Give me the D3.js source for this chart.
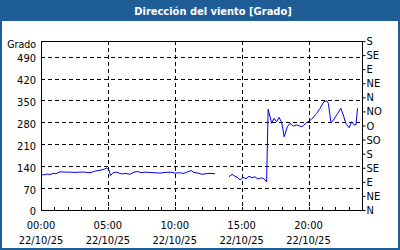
<!DOCTYPE html>
<html>
<head>
<meta charset="utf-8">
<script src="https://cdn.jsdelivr.net/npm/d3@7"></script>
<style>
  body { margin: 0; background: #fff; }
  svg { display: block; }
  text { font-family: "DejaVu Sans Condensed", "DejaVu Sans", sans-serif; font-size: 11px; fill: #000; }
</style>
</head>
<body>
<script>
var width = 400
var height = 250

// wind direction readings, 22/10/25 (null = no data)
var times = ["00:00","00:13","00:27","00:40","00:54","01:07","01:25","01:48","02:10","02:33","02:55","03:17","03:40","04:02","04:25","04:43","04:56","05:05","05:12","05:23","05:36","05:50","06:03","06:21","06:39","06:57","07:15","07:29","07:47","08:09","08:31","08:54","09:16","09:39","10:01","10:23","10:41","10:59","11:13","11:26","11:44","12:02","12:20","12:38","13:01",
  "13:30",
  "14:03","14:17","14:30","14:44","14:53","15:07","15:20","15:33","15:47","16:00","16:13","16:27","16:40","16:52","16:59","17:15","17:25","17:37","17:48","18:00","18:11","18:25","18:37","18:52","19:07","19:30","19:52","20:14","20:37","20:52","21:09","21:22","21:29","21:41","21:52","22:07","22:25","22:36","22:47","23:02","23:14","23:25","23:33","23:40"]
var values = [114,112,115,113,117,116,122,121,121,120,121,121,119,124,127,130,135,128,110,119,121,118,115,117,114,121,123,119,121,120,119,118,120,121,118,119,117,122,126,120,118,114,116,117,116,
  null,
  106,114,108,103,96,104,100,108,103,106,99,103,100,90,322,277,293,282,296,279,234,266,277,268,272,266,279,290,309,325,346,349,341,279,288,304,325,304,277,263,282,272,272,325]

var leftTicks = [0,70,140,210,280,350,420,490]
var rightTicks = [0,45,90,135,180,225,270,315,360,405,450,495,540]
var rightLabels = ["N","NE","E","SE","S","SO","O","NO","N","NE","E","SE","S"]
var hourTicks = [0,5,10,15,20]
var dateLabel = "22/10/25"

var margin = {top: 41, right: 38, bottom: 40, left: 41}
var plotW = width - margin.left - margin.right
var plotH = height - margin.top - margin.bottom

var svg = d3.select("body")
    .append("svg")
        .attr("width", width)
        .attr("height", height)

// frame + title bar
svg.append("rect")
    .attr("x", 1).attr("y", 1)
    .attr("width", width - 2).attr("height", height - 2)
    .attr("fill", "#fff")
    .attr("stroke", "#1f5d97")
    .attr("stroke-width", 2)
svg.append("rect")
    .attr("x", 0).attr("y", 0)
    .attr("width", width).attr("height", 21)
    .attr("fill", "#1f5d97")
svg.append("text")
    .attr("x", 213).attr("y", 15)
    .attr("text-anchor", "middle")
    .style("fill", "#fff")
    .style("font-weight", "bold")
    .style("font-size", "11px")
    .text("Dirección del viento [Grado]")

var g = svg.append("g")
    .attr("transform", "translate(" + margin.left + "," + margin.top + ")")

var parseHour = function(s) { var p = s.split(":"); return +p[0] + p[1] / 60 }

var x = d3.scaleLinear().domain([0, 24]).range([0, plotW])
var y = d3.scaleLinear().domain([0, 540]).range([plotH, 0])

// dashed grid
g.selectAll("hgrid")
    .data(leftTicks.filter(function(d) { return d > 0 }))
    .enter()
    .append("line")
        .attr("x1", 0).attr("x2", plotW)
        .attr("y1", function(d) { return Math.round(y(d)) + 0.5 })
        .attr("y2", function(d) { return Math.round(y(d)) + 0.5 })
        .attr("stroke", "#000")
        .attr("stroke-dasharray", "4,3")
g.selectAll("vgrid")
    .data(hourTicks.filter(function(d) { return d > 0 }))
    .enter()
    .append("line")
        .attr("y1", 0).attr("y2", plotH)
        .attr("x1", function(d) { return Math.round(x(d)) + 0.5 })
        .attr("x2", function(d) { return Math.round(x(d)) + 0.5 })
        .attr("stroke", "#000")
        .attr("stroke-dasharray", "4,3")

// plot box
g.append("rect")
    .attr("x", 0.5).attr("y", 0.5)
    .attr("width", plotW).attr("height", plotH)
    .attr("fill", "none")
    .attr("stroke", "#000")

// minor hour ticks on bottom edge
g.selectAll("minor")
    .data(d3.range(1, 24))
    .enter()
    .append("line")
        .attr("x1", function(d) { return Math.round(x(d)) + 0.5 })
        .attr("x2", function(d) { return Math.round(x(d)) + 0.5 })
        .attr("y1", plotH).attr("y2", plotH - 3)
        .attr("stroke", "#000")

// line
var pts = times.map(function(t, i) { return {h: parseHour(t), v: values[i]} })
var line = d3.line()
    .defined(function(d) { return d.v !== null })
    .x(function(d) { return x(d.h) })
    .y(function(d) { return y(d.v) })
g.append("path")
    .datum(pts)
    .attr("d", line)
    .attr("fill", "none")
    .attr("stroke", "#0000ee")
    .attr("stroke-width", 1)

// left axis
var leftAxis = d3.axisLeft(y).tickValues(leftTicks).tickSize(0).tickPadding(5)
g.append("g").call(leftAxis)
    .call(function(a) { a.select(".domain").remove() })
    .selectAll("text")
        .style("font-size", "11px")
        .attr("dy", "0.45em")
g.append("text")
    .attr("x", -5).attr("y", 7)
    .attr("text-anchor", "end")
    .style("font-size", "10.5px")
    .text("Grado")

// right axis (compass)
var rightAxis = d3.axisRight(y).tickValues(rightTicks)
    .tickFormat(function(d, i) { return rightLabels[i] })
    .tickSize(3).tickPadding(1)
g.append("g")
    .attr("transform", "translate(" + (plotW + 0.5) + ",0)")
    .call(rightAxis)
    .call(function(a) { a.select(".domain").remove() })
    .selectAll("text").style("font-size", "11px")

// bottom axis, two-line labels
var bottom = g.append("g").attr("transform", "translate(0," + plotH + ")")
var lab = bottom.selectAll("lab")
    .data(hourTicks)
    .enter()
    .append("text")
        .attr("text-anchor", "middle")
        .attr("x", function(d) { return x(d) })
lab.append("tspan")
    .attr("x", function(d) { return x(d) })
    .attr("y", 19)
    .text(function(d) { return d3.format("02d")(d) + ":00" })
lab.append("tspan")
    .attr("x", function(d) { return x(d) })
    .attr("y", 34)
    .text(dateLabel)
</script>
</body>
</html>
